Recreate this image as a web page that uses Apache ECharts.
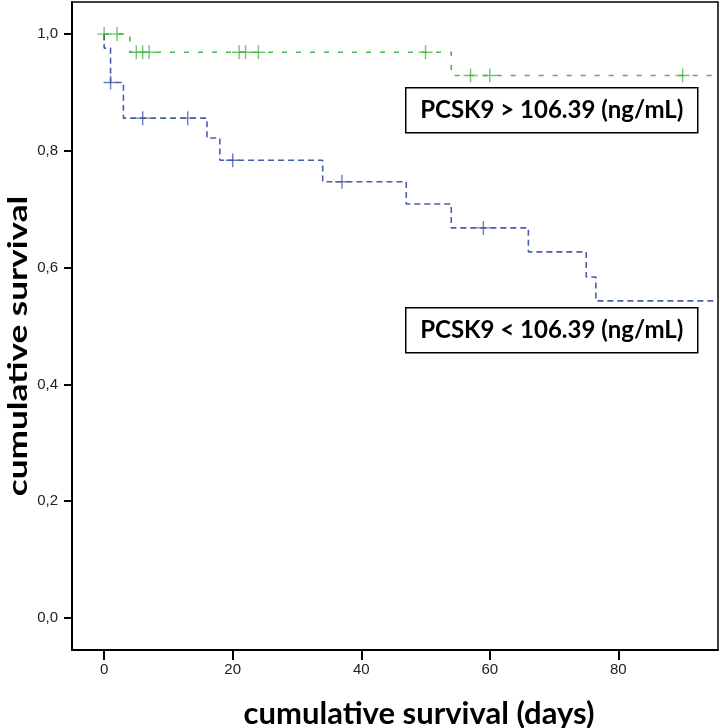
<!DOCTYPE html>
<html>
<head>
<meta charset="utf-8">
<script src="https://cdn.jsdelivr.net/npm/echarts@6/dist/echarts.min.js"></script>
<style>
  html, body { margin: 0; padding: 0; background: #fff; }
  #chart { width: 720px; height: 728px; }
</style>
</head>
<body>
<div id="chart"></div>
<script>
// Kaplan-Meier 曲线的数据
const xTicks = [0, 20, 40, 60, 80];
const yTicks = [0, 0.2, 0.4, 0.6, 0.8, 1.0];

// PCSK9 > 106.39
const highTimes = [0, 4, 54, 95.5];
const highSurv = [1.0, 0.969, 0.929, 0.929];
const highCensorTimes = [0, 2, 5, 6, 7, 21, 22, 24, 50, 57, 60, 90];
const highCensorSurv = [1.0, 1.0, 0.969, 0.969, 0.969, 0.969, 0.969, 0.969, 0.969, 0.929, 0.929, 0.929];

// PCSK9 < 106.39
const lowTimes = [0, 0, 1, 3, 16, 18, 34, 47, 54, 66, 75, 76.5, 95.5];
const lowSurv = [1.0, 0.976, 0.917, 0.856, 0.822, 0.784, 0.747, 0.709, 0.668, 0.627, 0.584, 0.543, 0.543];
const lowCensorTimes = [1, 6, 13, 20, 37, 59];
const lowCensorSurv = [0.917, 0.856, 0.856, 0.784, 0.747, 0.668];

const labels = ['PCSK9 > 106.39 (ng/mL)', 'PCSK9 < 106.39 (ng/mL)'];

const green = '#4cb84c';
const blue = '#4a5ea8';
// 十字形的删失标记
const plus = 'path://M0,6.3 L14,6.3 L14,7.7 L0,7.7 Z M6.3,0 L7.7,0 L7.7,14 L6.3,14 Z';

function zip(a, b) { return a.map((v, i) => [v, b[i]]); }

function labelBox(text, top) {
  return {
    type: 'group', left: 405, top: top,
    children: [
      { type: 'rect', shape: { x: 0, y: 0, width: 292, height: 45 },
        style: { fill: '#fff', stroke: '#000', lineWidth: 1.5 } },
      { type: 'text', x: 146, y: 23,
        style: { text: text, align: 'center', verticalAlign: 'middle',
                 font: 'bold 24px Lato', fill: '#000' } }
    ]
  };
}

let myChart = echarts.init(document.getElementById('chart'));
myChart.setOption({
  animation: false,
  grid: {
    left: 72, right: 2, top: 2, bottom: 78,
    containLabel: false, outerBoundsMode: 'none',
    show: true, borderColor: '#000', borderWidth: 1.5
  },
  xAxis: {
    type: 'value',
    min: -5, max: 95.5,
    name: 'cumulative survival (days)',
    nameLocation: 'middle',
    nameGap: 48,
    nameMoveOverlap: false,
    nameTextStyle: { fontFamily: 'Lato', fontWeight: 'bold', fontSize: 31, color: '#000',
                     padding: [0, 0, 0, 48] },
    axisLine: { onZero: false, lineStyle: { color: '#000', width: 2 } },
    axisTick: { customValues: xTicks, length: 10, lineStyle: { color: '#000', width: 2 } },
    axisLabel: {
      customValues: xTicks, margin: 12,
      fontFamily: 'Liberation Sans', fontSize: 15, color: '#222'
    },
    splitLine: { show: false }
  },
  yAxis: {
    type: 'value',
    min: -0.055, max: 1.055,
    axisLine: { onZero: false, lineStyle: { color: '#000', width: 2 } },
    axisTick: { customValues: yTicks, length: 8, lineStyle: { color: '#000', width: 2 } },
    axisLabel: {
      customValues: yTicks, margin: 14,
      fontFamily: 'Liberation Sans', fontSize: 15, color: '#222',
      formatter: v => v.toFixed(1).replace('.', ',')
    },
    splitLine: { show: false }
  },
  series: [
    {
      name: labels[1], type: 'line', step: 'end',
      data: zip(lowTimes, lowSurv),
      showSymbol: false,
      lineStyle: { color: blue, width: 1.6, type: [6, 4] }
    },
    {
      name: labels[1] + ' censored', type: 'scatter',
      data: zip(lowCensorTimes, lowCensorSurv),
      symbol: plus, symbolSize: 14,
      itemStyle: { color: blue }
    },
    {
      name: labels[0], type: 'line', step: 'end',
      data: zip(highTimes, highSurv),
      showSymbol: false,
      lineStyle: { color: green, width: 1.6, type: [5, 9] }
    },
    {
      name: labels[0] + ' censored', type: 'scatter',
      data: zip(highCensorTimes, highCensorSurv),
      symbol: plus, symbolSize: 14,
      itemStyle: { color: green }
    }
  ],
  graphic: [
    // 纵轴标题：原图里这段文字被拉长了
    {
      type: 'text', x: 19, y: 346, rotation: Math.PI / 2, scaleX: 1.35,
      style: { text: 'cumulative survival', align: 'center', verticalAlign: 'middle',
               font: 'bold 26px Lato', fill: '#000' }
    },
    labelBox(labels[0], 87),
    labelBox(labels[1], 307)
  ]
});
</script>
</body>
</html>
